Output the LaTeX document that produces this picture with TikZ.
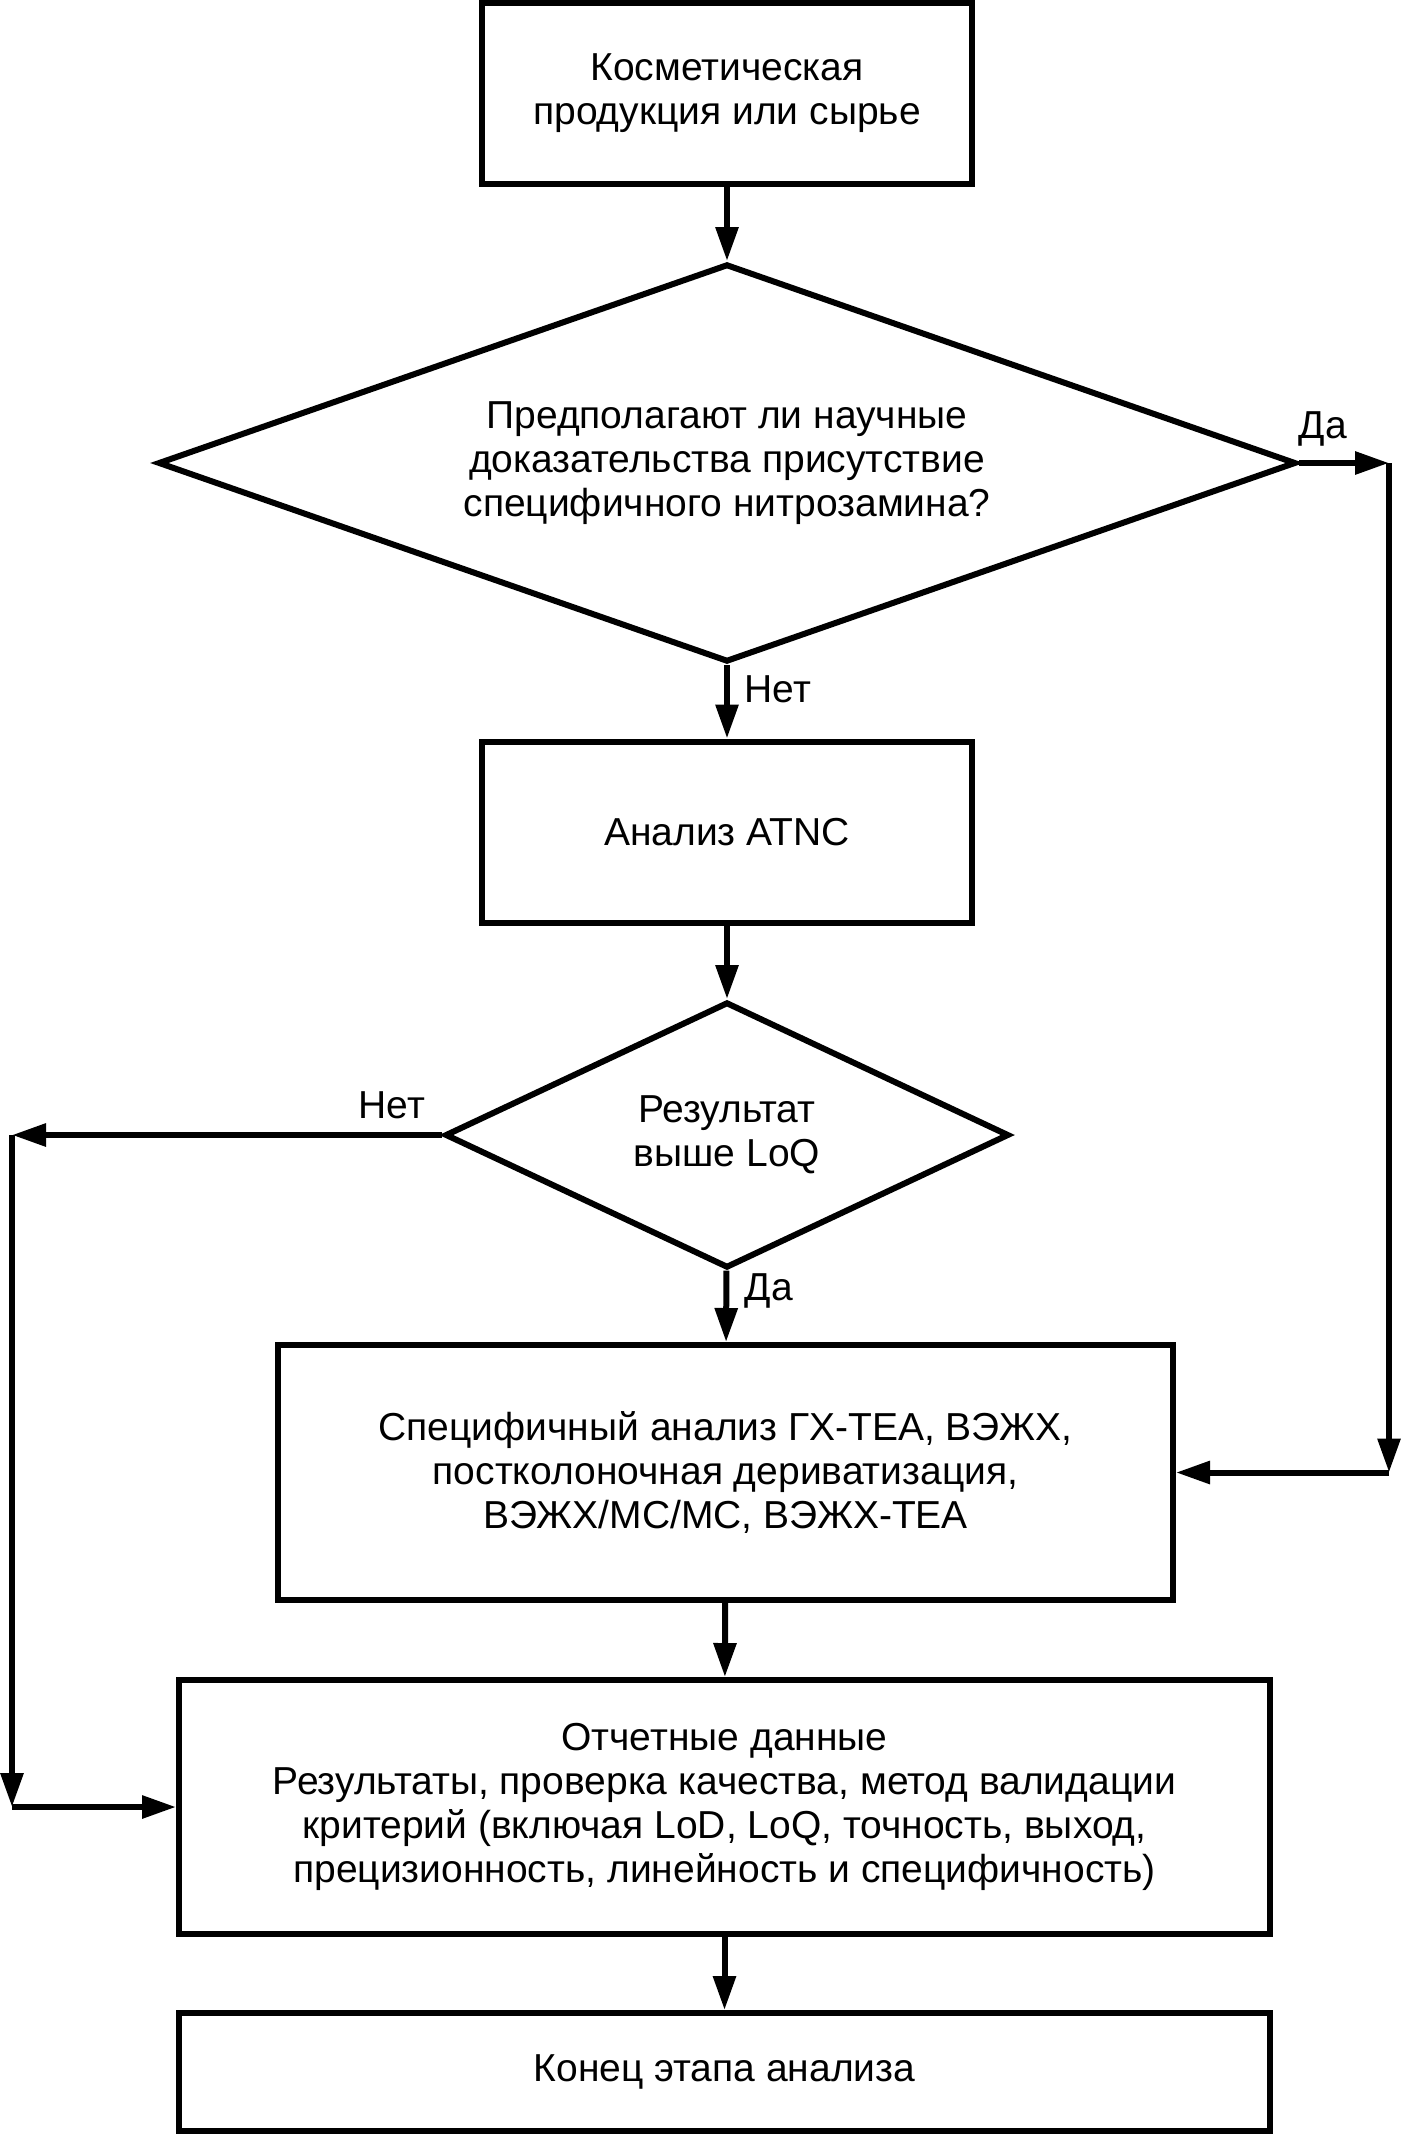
\documentclass[tikz,border=0pt]{standalone}
\usepackage{fontspec}
\setmainfont{Liberation Sans}
\usetikzlibrary{arrows.meta,shapes.geometric}

\begin{document}
\begin{tikzpicture}[x=0.5pt,y=-0.5pt]
\useasboundingbox (0,0) rectangle (1402,2135);
\begin{scope}[every node/.style={draw,line width=3pt,align=center,inner sep=0pt,
      font=\fontsize{19.5pt}{22pt}\selectfont}]
    \node[minimum width=245pt,minimum height=90.5pt] (prod) at (727,93.5) {Косметическая\\продукция или сырье};
    \node[diamond,aspect=2.86,minimum width=569pt,minimum height=199pt] (q1) at (727,463)
        {Предполагают ли научные\\доказательства присутствие\\специфичного нитрозамина?};
    \node[minimum width=245pt,minimum height=90.5pt] (atnc) at (727,832) {Анализ ATNC};
    \node[diamond,aspect=2.12,minimum width=282pt,minimum height=133pt] (q2) at (727,1135) {Результат\\выше LoQ};
    \node[minimum width=447.5pt,minimum height=127.5pt] (spec) at (725.5,1472.5)
        {Специфичный анализ ГХ-ТЕА, ВЭЖХ,\\постколоночная дериватизация,\\ВЭЖХ/МС/МС, ВЭЖХ-ТЕА};
    \node[minimum width=545.5pt,minimum height=127pt] (rep) at (724.5,1807)
        {Отчетные данные\\Результаты, проверка качества, метод валидации\\критерий (включая LoD, LoQ, точность, выход,\\прецизионность, линейность и специфичность)};
    \node[minimum width=545.5pt,minimum height=59pt] (fin) at (724.5,2072) {Конец этапа анализа};
\end{scope}

\coordinate (r1) at (1389,463);
\coordinate (r2) at (r1 |- spec.east);
\coordinate (l1) at (12,1135);
\coordinate (l2) at (l1 |- rep.west);

\begin{scope}[every node/.style={font=\fontsize{19.5pt}{22pt}\selectfont}]
    \node (yes1) at (1323,429) {Да};
    \node (no1) at (778,689) {Нет};
    \node (no2) at (392,1105) {Нет};
    \node (yes2) at (769,1291) {Да};
\end{scope}

\begin{scope}[every edge/.style={draw=black,line width=3pt,-{Triangle[length=17pt,width=11pt]}}]
    \path (prod) edge (q1);
    \path (q1) edge (atnc);
    \path (atnc) edge (q2);
    \path (q2) edge (spec);
    \path (spec) edge (rep);
    \path (rep) edge (fin);
    \path (q1.east) edge (r1);
    \path (r1) edge (r2);
    \path (r2) edge (spec.east);
    \path (q2.west) edge (l1);
    \path (l1) edge (l2);
    \path (l2) edge (rep.west);
\end{scope}
\end{tikzpicture}
\end{document}
